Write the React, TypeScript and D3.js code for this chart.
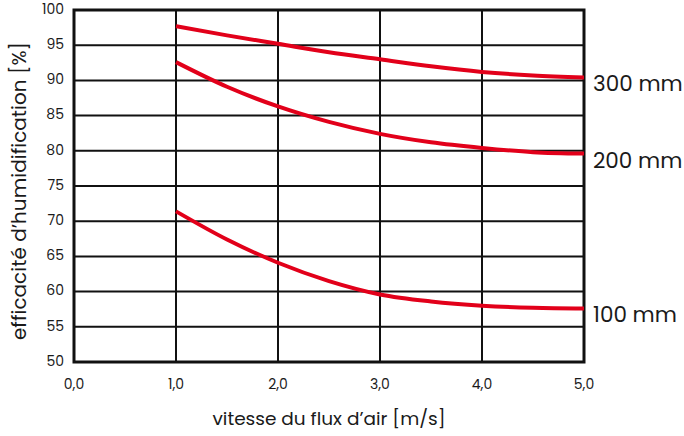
import React from "react";
import * as d3 from "d3";

const xTicks = [0, 1, 2, 3, 4, 5];
const xTickLabels = ["0,0", "1,0", "2,0", "3,0", "4,0", "5,0"];
const yTicks = [50, 55, 60, 65, 70, 75, 80, 85, 90, 95, 100];
const speeds = [1, 1.5, 2, 2.5, 3, 3.5, 4, 4.5, 5];
const eff300 = [97.7, 96.4, 95.2, 94.0, 93.0, 92.0, 91.2, 90.7, 90.4];
const eff200 = [92.6, 89.1, 86.3, 84.1, 82.4, 81.2, 80.4, 79.8, 79.6];
const eff100 = [71.4, 67.4, 64.1, 61.5, 59.6, 58.6, 58.0, 57.7, 57.6];
const seriesNames = ["300 mm", "200 mm", "100 mm"];
const seriesValues = [eff300, eff200, eff100];

const FONT = "Poppins, 'Open Sans', Lato, sans-serif";

export default function App() {
  const W = 684, H = 436;
  const x = d3.scaleLinear().domain([0, 5]).range([74, 584]);
  const y = d3.scaleLinear().domain([50, 100]).range([362, 10]);
  const line = d3
    .line<number>()
    .x((_, i) => x(speeds[i]))
    .y((d) => y(d))
    .curve(d3.curveMonotoneX);

  return (
    <svg width={W} height={H} style={{ position: "absolute", left: 0, top: 0, background: "#fff" }}>
      {yTicks.map((t) => (
        <line key={"gy" + t} x1={x(0)} x2={x(5)} y1={y(t)} y2={y(t)} stroke="#111" strokeWidth={2} />
      ))}
      {xTicks.map((t) => (
        <line key={"gx" + t} x1={x(t)} x2={x(t)} y1={y(50)} y2={y(100)} stroke="#111" strokeWidth={2} />
      ))}
      <rect x={x(0)} y={y(100)} width={x(5) - x(0)} height={y(50) - y(100)} fill="none" stroke="#111" strokeWidth={3} />
      {seriesValues.map((vals, i) => (
        <path key={"s" + i} d={line(vals) || ""} fill="none" stroke="#e2001a" strokeWidth={4} />
      ))}
      {seriesValues.map((vals, i) => (
        <text
          key={"l" + i}
          x={x(5) + 9}
          y={y(vals[vals.length - 1]) + 8}
          dominantBaseline="middle"
          fontFamily={FONT}
          fontSize={21.5}
          fill="#1a1a1a"
        >
          {seriesNames[i]}
        </text>
      ))}
      {yTicks.map((t) => (
        <text key={"ty" + t} x={64} y={y(t)} textAnchor="end" dominantBaseline="middle" fontFamily={FONT} fontSize={14} fill="#1a1a1a">
          {t}
        </text>
      ))}
      {xTicks.map((t, i) => (
        <text key={"tx" + t} x={x(t)} y={385} textAnchor="middle" dominantBaseline="middle" fontFamily={FONT} fontSize={14} fill="#1a1a1a">
          {xTickLabels[i]}
        </text>
      ))}
      <text x={329} y={420} textAnchor="middle" dominantBaseline="middle" fontFamily={FONT} fontSize={18.5} fill="#1a1a1a">
        vitesse du flux d’air [m/s]
      </text>
      <text
        transform={`translate(21,191) rotate(-90)`}
        textAnchor="middle"
        dominantBaseline="middle"
        fontFamily={FONT}
        fontSize={20}
        fill="#1a1a1a"
      >
        efficacité d’humidification [%]
      </text>
    </svg>
  );
}
